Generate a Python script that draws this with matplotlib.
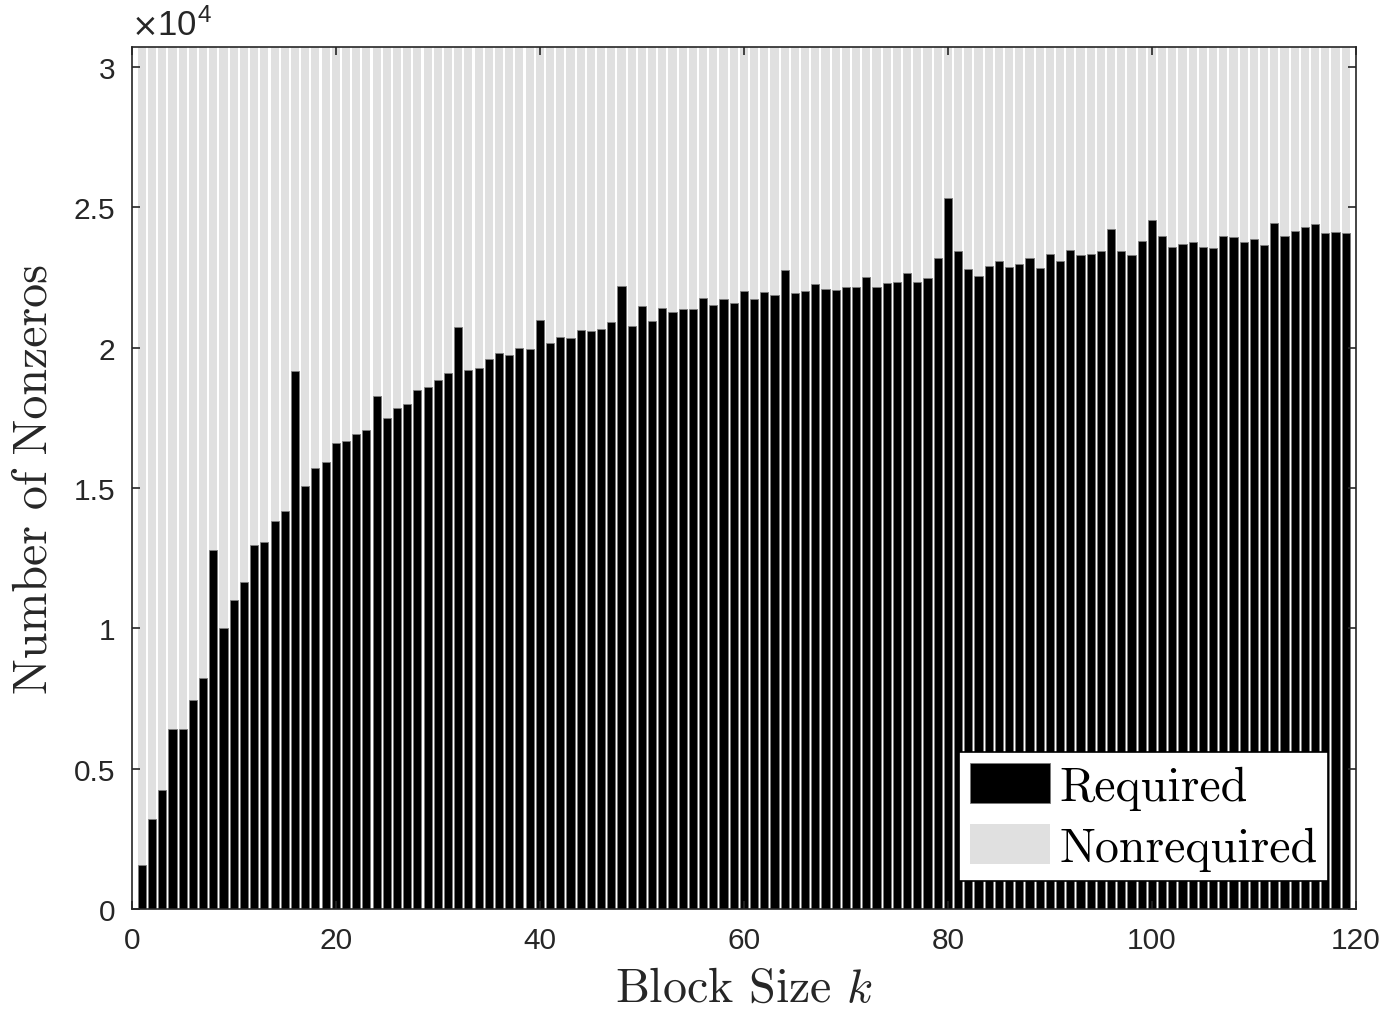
import numpy as np
import matplotlib.pyplot as plt
from matplotlib.ticker import FixedLocator

# Block sizes k = 1..119 and the number of required nonzeros per block size
block_size = np.arange(1, 120)
required = [
    1580, 3200, 4250, 6400, 6400, 7450, 8220, 12800, 10000, 11000,
    11670, 12970, 13070, 13840, 14200, 19190, 15090, 15730, 15920, 16620,
    16670, 16940, 17080, 18280, 17510, 17850, 18010, 18500, 18590, 18840,
    19100, 20730, 19220, 19270, 19600, 19815, 19755, 19980, 19970, 20980,
    20160, 20370, 20340, 20635, 20600, 20680, 20910, 22190, 20790, 21490,
    20940, 21410, 21265, 21380, 21370, 21770, 21540, 21740, 21600, 22040,
    21730, 21990, 21880, 22770, 21965, 22010, 22260, 22100, 22060, 22170,
    22180, 22535, 22180, 22320, 22330, 22680, 22360, 22500, 23200, 25340,
    23445, 22805, 22545, 22905, 23080, 22895, 23000, 23190, 22835, 23330,
    23110, 23485, 23310, 23330, 23440, 24245, 23440, 23320, 23805, 24565,
    23995, 23605, 23685, 23770, 23605, 23555, 23995, 23935, 23770, 23875,
    23675, 24435, 23970, 24175, 24305, 24400, 24080, 24140, 24090,
]
total_nnz = 30710
nonrequired = [total_nnz - r for r in required]

yticks = [0, 5000, 10000, 15000, 20000, 25000, 30000]
ytick_labels = ["0", "0.5", "1", "1.5", "2", "2.5", "3"]
xticks = [0, 20, 40, 60, 80, 100, 120]

plt.rcParams["mathtext.fontset"] = "custom"
plt.rcParams["mathtext.rm"] = "Liberation Sans"
plt.rcParams["mathtext.it"] = "cmmi10"

fig = plt.figure(figsize=(13.87, 10.12), dpi=100)
ax = fig.add_axes([0.095, 0.1008, 0.8826, 0.8515])

ax.bar(block_size, required, width=0.8, color="black",
       edgecolor="#7a7a7a", linewidth=0.6, label="Required")
ax.bar(block_size, nonrequired, width=0.8, bottom=required,
       color="#e0e0e0", linewidth=0, label="Nonrequired")

ax.set_xlim(0, 120)
ax.set_ylim(0, total_nnz)

ax.xaxis.set_major_locator(FixedLocator(xticks))
ax.set_yticks(yticks)
ax.set_yticklabels(ytick_labels)

axis_col = "#262626"
for s in ax.spines.values():
    s.set_color(axis_col)
    s.set_linewidth(1.2)
ax.tick_params(direction="in", length=6, width=1.2, colors=axis_col,
               top=True, right=True, labelsize=21.5, pad=12)
for lbl in ax.get_xticklabels() + ax.get_yticklabels():
    lbl.set_fontfamily("Liberation Sans")

# exponent marker above the y axis
ax.text(0.0, 1.006, "\u00d7", transform=ax.transAxes, family="DejaVu Sans",
        fontsize=23, color=axis_col, ha="left", va="bottom")
ax.text(0.021, 1.006, r"$10^{4}$", transform=ax.transAxes,
        fontsize=25, color=axis_col, ha="left", va="bottom")

ax.set_xlabel(r"Block Size $k$", family="cmr10", fontsize=34.5,
              color="#262626", labelpad=9)
ax.set_ylabel("Number of Nonzeros", family="cmr10", fontsize=34.5,
              color="#262626", labelpad=12)

leg = ax.legend(loc="lower right", prop={"family": "cmr10", "size": 34.5},
                fancybox=False, framealpha=1, edgecolor="black",
                handlelength=1.67, handleheight=0.92, handletextpad=0.2,
                labelspacing=0.3, borderpad=0.22, borderaxespad=0.58)
leg.get_frame().set_linewidth(1.2)

plt.savefig("out.png", dpi=100)
